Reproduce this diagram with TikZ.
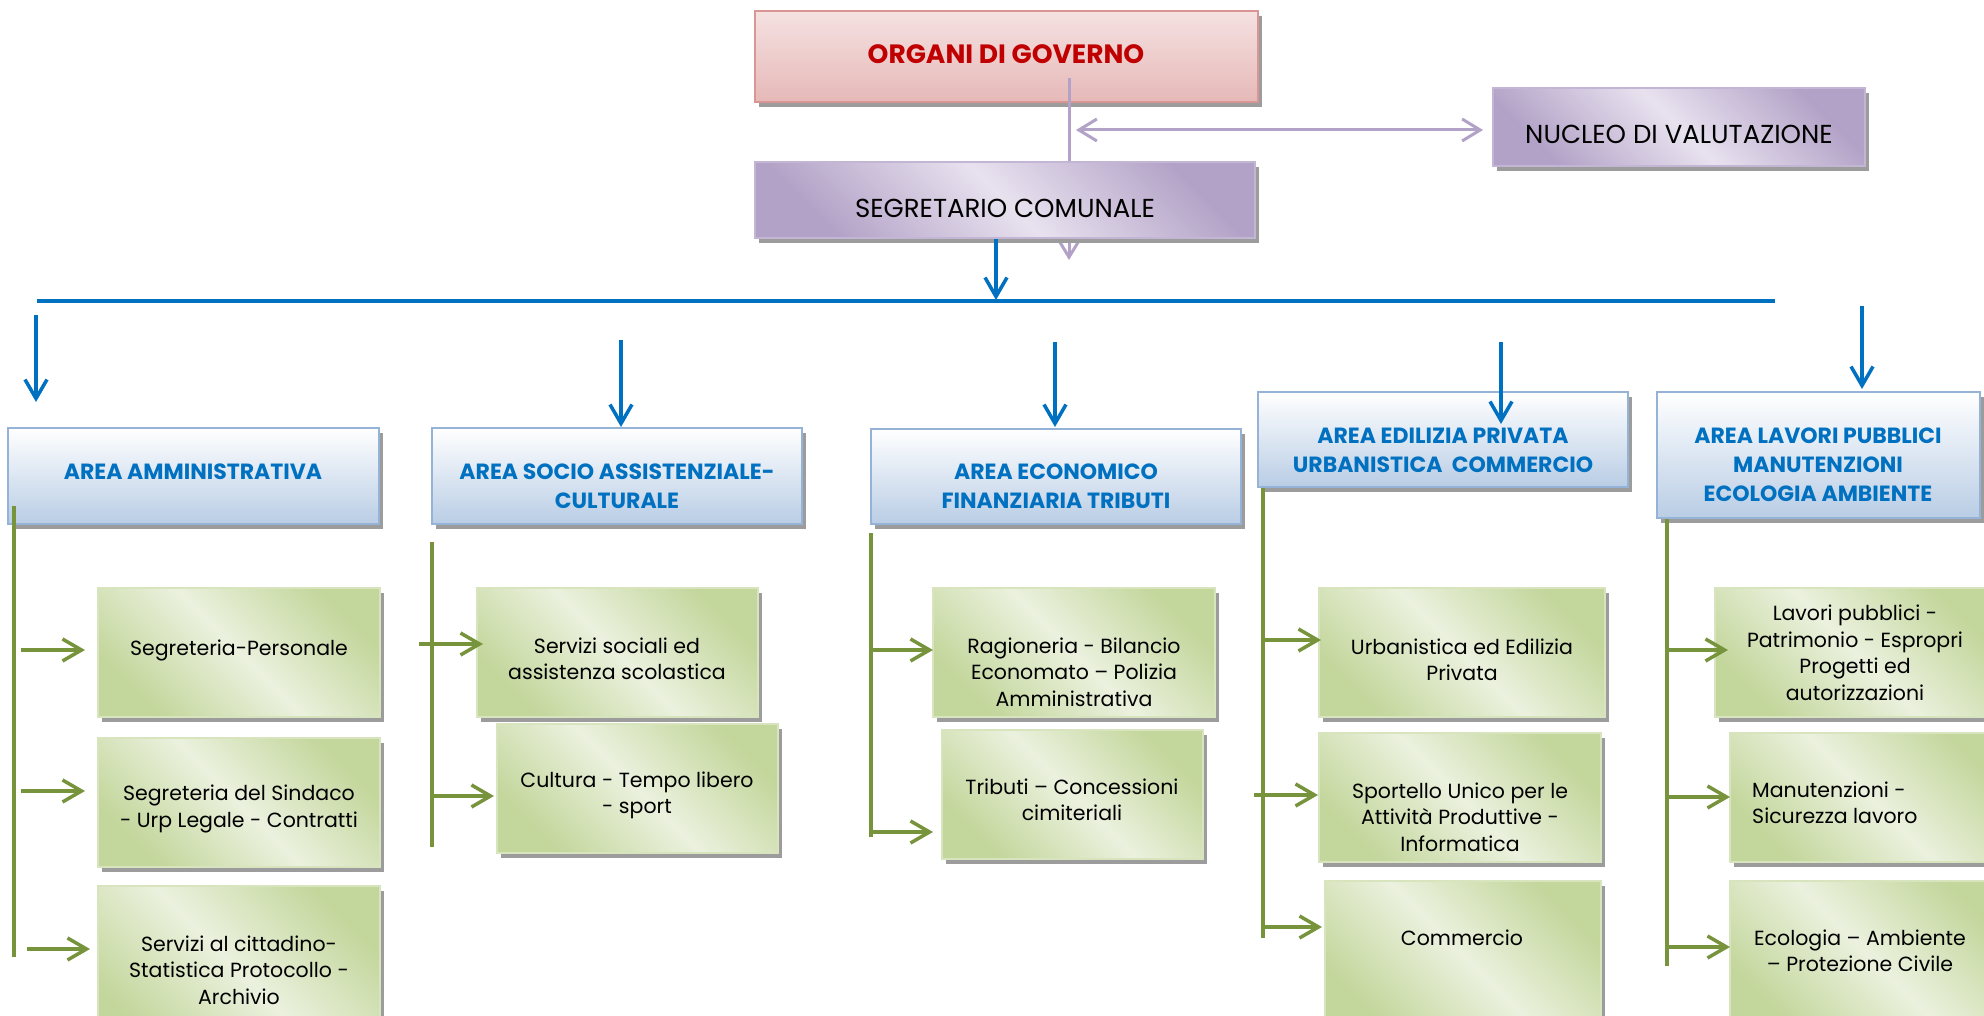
\documentclass[tikz,border=0pt]{standalone}
\usepackage{fontspec}
\setmainfont{Poppins}
\usetikzlibrary{arrows.meta,shadows}
\definecolor{bline}{HTML}{0070C0}
\definecolor{gline}{HTML}{77933C}
\definecolor{pline}{HTML}{B3A2C7}
\definecolor{redt}{HTML}{C00000}
\definecolor{pinkT}{HTML}{F5E1E1}
\definecolor{pinkB}{HTML}{E6B9B8}
\definecolor{pinkD}{HTML}{D99694}
\definecolor{purL}{HTML}{E8E2EF}
\definecolor{purD}{HTML}{B3A2C7}
\definecolor{purE}{HTML}{C3B6D5}
\definecolor{bluB}{HTML}{B9CDE5}
\definecolor{bluE}{HTML}{95B3D7}
\definecolor{grnL}{HTML}{EBF1DE}
\definecolor{grnD}{HTML}{C3D69B}
\definecolor{grnE}{HTML}{D7E4BD}
\definecolor{shad}{HTML}{9C9C9C}
\newcommand{\bodyfont}{\fontsize{20.5}{26.5}\selectfont}
\newcommand{\areafont}{\fontsize{22}{29}\selectfont\bfseries}
\tikzset{
  shd/.style={drop shadow={shadow xshift=4pt,shadow yshift=-5pt,opacity=1,fill=shad}},
  basebox/.style={rectangle,inner sep=0pt,line width=2.2pt,shd},
  sz/.style 2 args={minimum width=#1pt,minimum height=#2pt},
  pinkbox/.style={basebox,draw=pinkD,top color=pinkT,bottom color=pinkB},
  purbox/.style={basebox,draw=purE,top color=purD,bottom color=purD,middle color=purL,shading angle=-45},
  areabox/.style={basebox,draw=bluE,top color=white,bottom color=bluB},
  grnbox/.style={basebox,draw=grnE,top color=grnD,bottom color=grnD,middle color=grnL,shading angle=-45},
  gtxt/.style={align=center,inner sep=0pt,font=\bodyfont,text=black},
  atxt/.style={align=center,inner sep=0pt,font=\areafont,text=bline},
  ptxt/.style={align=center,inner sep=0pt,font=\fontsize{26}{30}\selectfont,text=black},
  bLine/.style={draw=bline,line width=3.5pt},
  bArrow/.style={bLine,-{Straight Barb[length=19pt,width=22pt]}},
  gLine/.style={draw=gline,line width=4pt},
  gArrow/.style={draw=gline,line width=3.5pt,-{Straight Barb[length=19pt,width=22pt]}},
  pLine/.style={draw=pline,line width=3pt},
  pArrow/.style={pLine,-{Straight Barb[length=18pt,width=22pt]}},
  pDArrow/.style={pLine,{Straight Barb[length=18pt,width=22pt]}-{Straight Barb[length=18pt,width=22pt]}},
}
\begin{document}
\begin{tikzpicture}[x=1pt,y=-1pt]
\useasboundingbox (0,0) rectangle (1984,1016);
\fill[white] (0,0) rectangle (1984,1016);

% ---------- top ----------
\node[pinkbox,sz={503}{91}] (org) at (1006.5,56.5) {};
\node[align=center,inner sep=0pt,font=\fontsize{26.5}{30}\selectfont\bfseries,text=redt] (orgt) at (1006,54) {ORGANI DI GOVERNO};
\coordinate (pTop) at (1069,78);
\coordinate (pTip) at (1069,260);
\draw[pArrow] (pTop) -- (pTip);
\node[purbox,sz={500}{76}] (seg) at (1005,200) {};
\node[ptxt] (segt) at (1005,208) {SEGRETARIO COMUNALE};
\node[purbox,sz={372}{78}] (nuc) at (1679,127) {};
\node[ptxt] (nuct) at (1679,134) {NUCLEO DI VALUTAZIONE};
\coordinate (dL) at (1076,130);
\coordinate (dR) at (1483,130);
\draw[pDArrow] (dL) -- (dR);

% ---------- blue ----------
\coordinate (hL) at (37,301);
\coordinate (hR) at (1775,301);
\draw[bLine] (hL) -- (hR);
\coordinate (segTip) at (996,300);
\draw[bArrow] (seg.south -| segTip) -- (segTip);

\node[areabox,sz={371}{96}] (a1) at (193.5,476) {};
\node[atxt] (a1t) at (193,472) {AREA AMMINISTRATIVA};
\node[areabox,sz={370}{96}] (a2) at (617,476) {};
\node[atxt] (a2t) at (617,486.5) {AREA SOCIO ASSISTENZIALE-\\CULTURALE};
\node[areabox,sz={370}{95}] (a3) at (1056,476.5) {};
\node[atxt] (a3t) at (1056,486) {AREA ECONOMICO\\FINANZIARIA TRIBUTI};
\node[areabox,sz={370}{95}] (a4) at (1443,439.5) {};
\node[atxt] (a4t) at (1443,450.5) {AREA EDILIZIA PRIVATA\\URBANISTICA\ \ COMMERCIO};
\node[areabox,sz={323}{126}] (a5) at (1818.5,455) {};
\node[atxt] (a5t) at (1818,464.5) {AREA LAVORI PUBBLICI\\MANUTENZIONI\\ECOLOGIA AMBIENTE};

\coordinate (b1s) at (36,315);   \coordinate (b1e) at (36,402);
\coordinate (b2s) at (621,340);  \coordinate (b2e) at (621,427);
\coordinate (b3s) at (1055,342); \coordinate (b3e) at (1055,427);
\coordinate (b4s) at (1501,342); \coordinate (b4e) at (1501,424);
\coordinate (b5s) at (1862,306); \coordinate (b5e) at (1862,389);
\draw[bArrow] (b1s) -- (b1e);
\draw[bArrow] (b2s) -- (b2e);
\draw[bArrow] (b3s) -- (b3e);
\draw[bArrow] (b4s) -- (b4e);
\draw[bArrow] (b5s) -- (b5e);

% ---------- green boxes ----------
\node[grnbox,sz={282}{129}] (l1) at (239,652.5) {};
\node[gtxt] (l1t) at (239,650) {Segreteria-Personale};
\node[grnbox,sz={282}{129}] (l2) at (239,802.5) {};
\node[gtxt] (l2t) at (239,809) {Segreteria del Sindaco\\- Urp Legale - Contratti};
\node[grnbox,sz={282}{168}] (l3) at (239,970) {};
\node[gtxt] (l3t) at (239,970) {Servizi al cittadino-\\Statistica Protocollo -\\Archivio};

\node[grnbox,sz={281}{129}] (s1) at (617.5,652.5) {};
\node[gtxt] (s1t) at (617,659) {Servizi sociali ed\\assistenza scolastica};
\node[grnbox,sz={281}{129}] (s2) at (637.5,788.5) {};
\node[gtxt] (s2t) at (637,795.5) {Cultura - Tempo libero\\- sport};

\node[grnbox,sz={282}{129}] (e1) at (1074,652.5) {};
\node[gtxt] (e1t) at (1074,672) {Ragioneria - Bilancio\\Economato – Polizia\\Amministrativa};
\node[grnbox,sz={261}{129}] (e2) at (1072.5,794.5) {};
\node[gtxt] (e2t) at (1072,800) {Tributi – Concessioni\\cimiteriali};

\node[grnbox,sz={286}{129}] (d1) at (1462,652.5) {};
\node[gtxt] (d1t) at (1462,660) {Urbanistica ed Edilizia\\Privata};
\node[grnbox,sz={282}{129}] (d2) at (1460,797.5) {};
\node[gtxt] (d2t) at (1460,817) {Sportello Unico per le\\Attività Produttive -\\Informatica};
\node[grnbox,sz={276}{150}] (d3) at (1463,956) {};
\node[gtxt] (d3t) at (1462,938) {Commercio};

\node[grnbox,sz={280}{129}] (v1) at (1855,652.5) {};
\node[gtxt] (v1t) at (1855,653) {Lavori pubblici -\\Patrimonio - Espropri\\Progetti ed\\autorizzazioni};
\node[grnbox,sz={280}{129}] (v2) at (1870,797.5) {};
\node[gtxt,align=left,anchor=west] (v2t) at (1752,803) {Manutenzioni -\\Sicurezza lavoro};
\node[grnbox,sz={280}{150}] (v3) at (1870,956) {};
\node[gtxt] (v3t) at (1860,951) {Ecologia – Ambiente\\– Protezione Civile};

% ---------- green connectors ----------
\draw[gLine] (a1.south -| 14,0) ++(0,-19) coordinate (gL1) -- (14,957) coordinate (gL2);
\draw[gArrow] (21,650) coordinate (l1s) -- (85,650) coordinate (l1e);
\draw[gArrow] (21,791) coordinate (l2s) -- (85,791) coordinate (l2e);
\draw[gArrow] (27,949) coordinate (l3s) -- (90,949) coordinate (l3e);

\draw[gLine] (432,542) coordinate (gS1) -- (432,847) coordinate (gS2);
\draw[gArrow] (419,644) coordinate (s1s) -- (483,644) coordinate (s1e);
\draw[gArrow] (432,796) coordinate (s2s) -- (494,796) coordinate (s2e);

\draw[gLine] (871,533) coordinate (gE1) -- (871,837) coordinate (gE2);
\draw[gArrow] (871,650) coordinate (e1s) -- (933,650) coordinate (e1e);
\draw[gArrow] (871,832) coordinate (e2s) -- (933,832) coordinate (e2e);

\draw[gLine] (a4.south -| 1263,0) coordinate (gD1) -- (1263,938) coordinate (gD2);
\draw[gArrow] (1263,640) coordinate (d1s) -- (1321,640) coordinate (d1e);
\draw[gArrow] (1254,795) coordinate (d2s) -- (1318,795) coordinate (d2e);
\draw[gArrow] (1263,927) coordinate (d3s) -- (1322,927) coordinate (d3e);

\draw[gLine] (a5.south -| 1667,0) coordinate (gV1) -- (1667,966) coordinate (gV2);
\draw[gArrow] (1667,650) coordinate (v1s) -- (1728,650) coordinate (v1e);
\draw[gArrow] (1667,797) coordinate (v2s) -- (1730,797) coordinate (v2e);
\draw[gArrow] (1667,947) coordinate (v3s) -- (1730,947) coordinate (v3e);
\end{tikzpicture}
\end{document}
